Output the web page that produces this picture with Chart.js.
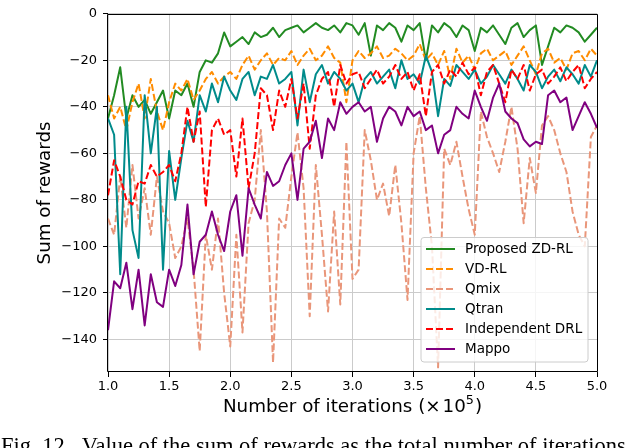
<!DOCTYPE html>
<html>
<head>
<meta charset="utf-8">
<script src="https://cdn.jsdelivr.net/npm/chart.js@4/dist/chart.umd.min.js"></script>
<style>
  html, body { margin: 0; padding: 0; background: #fff; }
  canvas { display: block; }
</style>
</head>
<body>
<canvas id="chart_rewards" width="630" height="448"></canvas>
<script>
// iterations (x10^5)
const iterations = [
    1.00, 1.05, 1.10, 1.15, 1.20, 1.25, 1.30, 1.35, 1.40, 1.45,
    1.50, 1.55, 1.60, 1.65, 1.70, 1.75, 1.80, 1.85, 1.90, 1.95,
    2.00, 2.05, 2.10, 2.15, 2.20, 2.25, 2.30, 2.35, 2.40, 2.45,
    2.50, 2.55, 2.60, 2.65, 2.70, 2.75, 2.80, 2.85, 2.90, 2.95,
    3.00, 3.05, 3.10, 3.15, 3.20, 3.25, 3.30, 3.35, 3.40, 3.45,
    3.50, 3.55, 3.60, 3.65, 3.70, 3.75, 3.80, 3.85, 3.90, 3.95,
    4.00, 4.05, 4.10, 4.15, 4.20, 4.25, 4.30, 4.35, 4.40, 4.45,
    4.50, 4.55, 4.60, 4.65, 4.70, 4.75, 4.80, 4.85, 4.90, 4.95,
    5.00
];

const zdrl = [
    -45, -35, -23, -45, -35, -40, -37, -43, -38, -33,
    -45, -33, -35, -30, -40, -25, -20, -21, -17, -8,
    -14, -12, -10, -13, -8, -10, -9, -6, -10, -7,
    -6, -5, -8, -6, -4, -6, -7, -5, -8, -4,
    -5, -9, -4, -18, -5, -7, -4, -6, -12, -5,
    -7, -4, -20, -5, -8, -4, -6, -10, -5, -7,
    -16, -6, -8, -5, -9, -13, -6, -4, -10, -7,
    -5, -22, -14, -6, -8, -5, -6, -8, -12, -9,
    -6
];

const vdrl = [
    -35, -45, -40, -50, -38, -30, -45, -28, -42, -50,
    -38, -30, -33, -28, -37, -33, -28, -25, -30, -27,
    -25, -28, -22, -18, -24, -20, -17, -22, -19, -20,
    -16, -22, -18, -15, -20, -18, -14, -19, -21, -38,
    -20, -16, -19, -17, -14, -19, -18, -15, -17, -20,
    -18, -13, -20, -17, -22, -16, -28, -15, -21, -18,
    -24, -17, -15, -20, -18, -16, -22, -18, -14, -20,
    -26, -17, -15, -21, -19, -24, -17, -16, -20, -15,
    -18
];

const qmix = [
    -88, -95, -70, -92, -65, -88, -75, -95, -70, -85,
    -90, -105, -100, -88, -110, -145, -95, -110, -88, -120,
    -143, -95, -137, -90, -80, -50, -85, -150, -88, -92,
    -70, -51, -75, -130, -65, -95, -128, -85, -125, -55,
    -114, -110, -50, -63, -80, -73, -87, -65, -90, -123,
    -60, -44, -75, -100, -152, -58, -65, -55, -70, -84,
    -95, -42, -53, -60, -68, -55, -40, -58, -90, -62,
    -77, -48, -44, -50, -60, -68, -85, -95, -100, -53,
    -48
];

const qtran = [
    -45, -52, -112, -40, -93, -105, -35, -60, -40, -110,
    -59, -80, -62, -46, -55, -35, -42, -30, -38, -27,
    -33, -37, -28, -25, -35, -27, -28, -22, -30, -28,
    -25, -48, -24, -38, -26, -22, -30, -25, -28, -33,
    -30, -38, -28, -25, -30, -27, -24, -32, -20, -28,
    -26, -30, -18, -25, -44, -28, -31, -22, -25, -28,
    -24, -30, -27, -22, -26, -30, -24, -28, -33, -22,
    -25, -32, -27, -24, -29, -23, -26, -30, -22, -27,
    -20
];

const indepDrl = [
    -78, -63, -70, -80, -82, -72, -73, -65, -70, -68,
    -65, -72, -60, -40, -55, -42, -83, -50, -45, -52,
    -50, -70, -45, -75, -60, -32, -35, -50, -33, -40,
    -28, -45, -30, -58, -35, -28, -25, -40, -22, -30,
    -26, -25, -32, -28, -24, -30, -27, -22, -28, -25,
    -33, -26, -44, -25, -22, -30, -24, -27, -21, -26,
    -23, -35, -25, -22, -30, -38, -24, -28, -22, -33,
    -26, -24, -30, -27, -23, -29, -25, -22, -32, -28,
    -25
];

const mappo = [
    -136, -115, -118, -107, -127, -110, -134, -112, -124, -126,
    -110, -117, -108, -82, -112, -98, -95, -85, -95, -102,
    -85, -78, -104, -75, -82, -88, -68, -74, -72, -65,
    -60, -80, -58, -55, -46, -62, -45, -50, -38, -43,
    -40, -38, -42, -40, -55, -45, -40, -42, -48, -40,
    -44, -42, -50, -48, -60, -52, -50, -40, -43, -45,
    -33, -40, -46, -36, -30, -42, -45, -47, -54, -57,
    -55, -56, -35, -33, -38, -36, -50, -44, -38, -43,
    -49
];

const seriesNames = ['Proposed ZD-RL', 'VD-RL', 'Qmix', 'Qtran', 'Independent DRL', 'Mappo'];
const xTicks = [1.0, 1.5, 2.0, 2.5, 3.0, 3.5, 4.0, 4.5, 5.0];
const yTicks = [0, -20, -40, -60, -80, -100, -120, -140];

const COLORS = ['#228b22', '#ff8c00', '#e9967a', '#008b8b', '#ff0000', '#800080'];
const DASHED = [false, true, true, false, true, false];
const DASH = [7, 3];
const FONT = '"DejaVu Sans", sans-serif';

const seriesValues = [zdrl, vdrl, qmix, qtran, indepDrl, mappo];

const datasets = seriesNames.map((name, i) => ({
    label: name,
    data: iterations.map((x, j) => ({ x: x, y: seriesValues[i][j] })),
    borderColor: COLORS[i],
    backgroundColor: COLORS[i],
    borderWidth: 2,
    borderDash: DASHED[i] ? DASH : [],
    borderJoinStyle: 'round',
    pointRadius: 0,
    tension: 0,
    fill: false,
    order: seriesNames.length - 1 - i
}));

// frame, x title, legend box and the caption
const decor = {
    id: 'decor',
    afterDraw(chart) {
        const { ctx, chartArea: a } = chart;
        ctx.save();

        // spines
        ctx.strokeStyle = '#000';
        ctx.lineWidth = 1;
        ctx.setLineDash([]);
        ctx.beginPath();
        ctx.rect(Math.round(a.left) - 0.5, Math.round(a.top) + 0.5,
                 Math.round(a.right - a.left) + 1, Math.round(a.bottom - a.top) - 1);
        ctx.stroke();

        // x axis title with superscript
        ctx.fillStyle = '#000';
        ctx.textBaseline = 'alphabetic';
        const big = '18.3px ' + FONT, small = '12.8px ' + FONT;
        const p1 = 'Number of iterations (', p2 = '\u00d7', p3 = '10', p4 = '5', p5 = ')';
        ctx.font = big;
        const w1 = ctx.measureText(p1).width, w2 = ctx.measureText(p2).width,
              w3 = ctx.measureText(p3).width, w5 = ctx.measureText(p5).width;
        ctx.font = small;
        const w4 = ctx.measureText(p4).width;
        const total = w1 + w2 + 2 + w3 + w4 + 1 + w5;
        let x = (a.left + a.right) / 2 - total / 2;
        const base = 412;
        ctx.font = big;
        ctx.fillText(p1, x, base); x += w1;
        ctx.fillText(p2, x, base); x += w2 + 2;
        ctx.fillText(p3, x, base); x += w3;
        ctx.font = small;
        ctx.fillText(p4, x, base - 8); x += w4 + 1;
        ctx.font = big;
        ctx.fillText(p5, x, base);

        // legend
        const lx = 421, ly = 237.5, lw = 167, lh = 124.5, r = 3;
        ctx.beginPath();
        ctx.moveTo(lx + r, ly);
        ctx.arcTo(lx + lw, ly, lx + lw, ly + lh, r);
        ctx.arcTo(lx + lw, ly + lh, lx, ly + lh, r);
        ctx.arcTo(lx, ly + lh, lx, ly, r);
        ctx.arcTo(lx, ly, lx + lw, ly, r);
        ctx.closePath();
        ctx.fillStyle = 'rgba(255,255,255,0.8)';
        ctx.fill();
        ctx.strokeStyle = '#cccccc';
        ctx.lineWidth = 1;
        ctx.stroke();

        ctx.font = '13.5px ' + FONT;
        ctx.textBaseline = 'middle';
        seriesNames.forEach((name, i) => {
            const y = 249 + i * 20;
            ctx.beginPath();
            ctx.setLineDash(DASHED[i] ? DASH : []);
            ctx.strokeStyle = COLORS[i];
            ctx.lineWidth = 2;
            ctx.moveTo(426, y);
            ctx.lineTo(455, y);
            ctx.stroke();
            ctx.setLineDash([]);
            ctx.fillStyle = '#000';
            ctx.fillText(name, 465, y);
        });

        // figure caption (cut off by the page edge)
        ctx.font = '22.5px "Liberation Serif", serif';
        ctx.textBaseline = 'alphabetic';
        ctx.fillStyle = '#000';
        ctx.fillText('Fig. 12.  Value of the sum of rewards as the total number of iterations', 1, 453);

        ctx.restore();
    }
};

document.addEventListener('DOMContentLoaded', function () {
    const ctx = document.getElementById('chart_rewards');

    const config = {
        type: 'line',
        data: { datasets: datasets },
        options: {
            responsive: false,
            animation: false,
            layout: { padding: { left: 0, top: 7, right: 33, bottom: 0 } },
            plugins: {
                legend: { display: false },
                tooltip: { enabled: false }
            },
            scales: {
                x: {
                    type: 'linear',
                    min: 1,
                    max: 5,
                    afterFit: s => { s.height = 76; },
                    afterBuildTicks: s => { s.ticks = xTicks.map(v => ({ value: v })); },
                    ticks: {
                        font: { family: FONT, size: 13 },
                        color: '#000',
                        padding: 2,
                        maxRotation: 0,
                        autoSkip: false,
                        callback: v => Number(v).toFixed(1)
                    },
                    grid: { color: '#cbcbcb', lineWidth: 1, tickLength: 5, tickColor: '#000', drawTicks: true },
                    border: { display: false }
                },
                y: {
                    type: 'linear',
                    min: -154,
                    max: 0,
                    afterFit: s => { s.width = 108; },
                    afterBuildTicks: s => { s.ticks = yTicks.map(v => ({ value: v })); },
                    ticks: {
                        font: { family: FONT, size: 13 },
                        color: '#000',
                        padding: 6,
                        autoSkip: false,
                        callback: v => (v < 0 ? '\u2212' + Math.abs(v) : String(v))
                    },
                    grid: { color: '#cbcbcb', lineWidth: 1, tickLength: 5, tickColor: '#000', drawTicks: true },
                    border: { display: false },
                    title: {
                        display: true,
                        text: 'Sum of rewards',
                        color: '#000',
                        font: { family: FONT, size: 18.3 },
                        padding: { top: 34, bottom: 0 }
                    }
                }
            }
        },
        plugins: [decor]
    };

    new Chart(ctx, config);
});
</script>
</body>
</html>
